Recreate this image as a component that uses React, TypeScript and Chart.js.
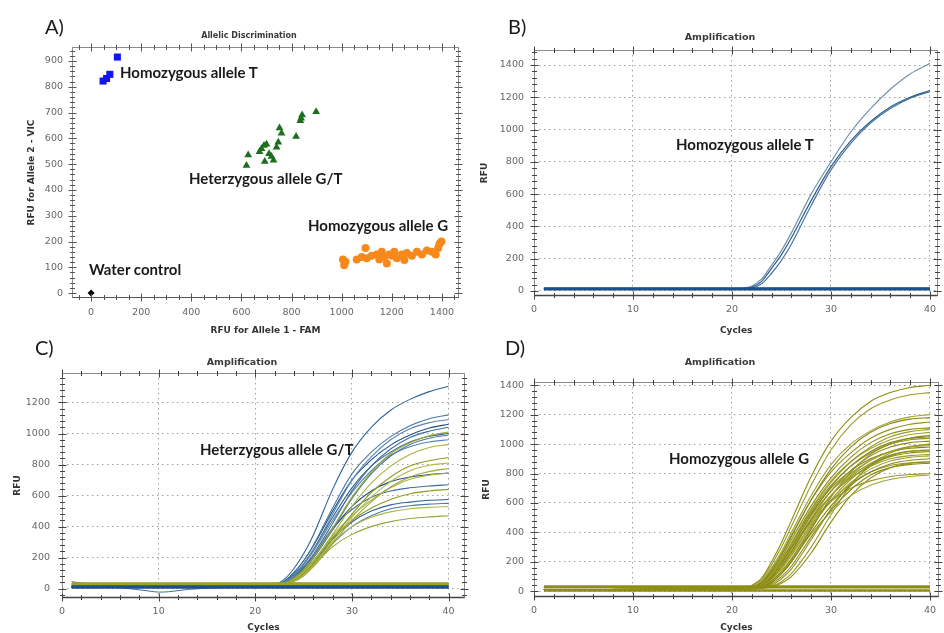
import React, { useEffect, useRef } from 'react';
import { Chart, registerables } from 'chart.js';
Chart.register(...registerables);

// ---------------- Panel A: allelic discrimination ----------------
const A_X_TICKS = [0, 200, 400, 600, 800, 1000, 1200, 1400];
const A_Y_TICKS = [0, 100, 200, 300, 400, 500, 600, 700, 800, 900];
const A_HOMO_T = [[48, 822], [62, 832], [75, 848], [105, 915]];
const A_HETERO = [
  [620, 495], [627, 535], [672, 548], [680, 560], [690, 572], [700, 577], [693, 510],
  [710, 540], [720, 530], [728, 515], [740, 565], [747, 585], [752, 640], [760, 620],
  [818, 607], [835, 668], [842, 690], [838, 678], [898, 703],
];
const A_HOMO_G = [
  [1005, 130], [1010, 108], [1015, 122], [1060, 130], [1080, 140], [1095, 175], [1100, 135],
  [1120, 145], [1140, 150], [1150, 130], [1160, 160], [1170, 140], [1180, 115], [1190, 150],
  [1200, 145], [1210, 160], [1220, 135], [1240, 150], [1250, 128], [1260, 155], [1280, 145],
  [1300, 160], [1320, 150], [1340, 165], [1360, 160], [1375, 150], [1385, 175], [1390, 190], [1398, 200],
];
const A_WATER = [[0, 0]];

// ---------------- Amplification curves ----------------
const CYCLES = [1, 20, 21, 22, 23, 24, 25, 26, 28, 30, 32, 34, 36, 38, 40];
const FLAT_CYCLES = [1, 40];
const AMP_X_TICKS = [0, 10, 20, 30, 40];
const B_Y_TICKS = [0, 200, 400, 600, 800, 1000, 1200, 1400];
const C_Y_TICKS = [0, 200, 400, 600, 800, 1000, 1200];
const D_Y_TICKS = [0, 200, 400, 600, 800, 1000, 1200, 1400];

// Panel B: homozygous allele T
const B_CURVES = [
  [12, 13, 16, 30, 75, 160, 250, 360, 600, 800, 985, 1130, 1250, 1345, 1410],
  [10, 11, 13, 24, 60, 140, 225, 330, 560, 770, 930, 1050, 1140, 1200, 1242],
  [10, 11, 12, 18, 45, 110, 190, 290, 530, 750, 915, 1040, 1130, 1195, 1235],
];
const B_FLAT = [[17, 17], [14, 14], [10, 10]];

// Panel C: heterozygous G/T (blue = FAM, olive = VIC)
const C_BLUE = [
  [8, 10, 14, 25, 60, 130, 225, 345, 640, 880, 1040, 1150, 1220, 1270, 1305],
  [10, 12, 14, 22, 45, 100, 180, 280, 520, 740, 880, 980, 1050, 1095, 1120],
  [10, 12, 13, 20, 40, 85, 160, 250, 480, 700, 850, 960, 1030, 1070, 1090],
  [10, 12, 14, 22, 48, 105, 180, 275, 500, 700, 830, 925, 990, 1035, 1060],
  [10, 12, 13, 18, 35, 75, 140, 220, 420, 630, 790, 900, 975, 1015, 1040],
  [10, 12, 13, 20, 42, 90, 160, 250, 460, 650, 790, 880, 945, 982, 1000],
  [10, 12, 13, 17, 30, 65, 120, 195, 380, 580, 740, 855, 930, 970, 990],
  [10, 12, 14, 20, 42, 88, 155, 240, 440, 620, 760, 860, 915, 945, 960],
  [10, 12, 13, 18, 35, 75, 130, 200, 380, 530, 630, 690, 720, 735, 745],
  [10, 12, 14, 20, 40, 85, 140, 210, 390, 510, 590, 630, 650, 662, 670],
  [10, 12, 13, 18, 34, 70, 115, 170, 320, 430, 500, 540, 558, 570, 575],
  [10, 12, 13, 17, 30, 60, 100, 155, 290, 400, 470, 515, 535, 545, 550],
];
const C_OLIVE = [
  [15, 18, 19, 22, 35, 70, 125, 200, 390, 590, 750, 870, 940, 985, 1010],
  [15, 18, 19, 21, 32, 60, 105, 175, 350, 530, 680, 790, 865, 910, 930],
  [15, 18, 19, 21, 30, 55, 95, 160, 320, 480, 620, 720, 790, 825, 845],
  [15, 18, 19, 21, 28, 50, 90, 150, 305, 460, 590, 690, 760, 795, 810],
  [15, 18, 19, 20, 27, 46, 82, 140, 290, 440, 560, 655, 720, 755, 775],
  [15, 18, 19, 22, 32, 60, 110, 175, 340, 470, 570, 650, 705, 732, 745],
  [15, 18, 19, 22, 34, 65, 115, 180, 330, 440, 520, 575, 612, 630, 640],
  [15, 18, 19, 21, 32, 60, 105, 165, 300, 400, 460, 495, 515, 524, 530],
  [15, 18, 19, 21, 30, 55, 95, 150, 270, 350, 400, 432, 452, 463, 470],
];
const C_OLIVE_FLAT = [[34, 34], [30, 30]];
const C_BLUE_FLAT = [[16, 16], [10, 10]];
const C_NOISE_CYCLES = [1, 4, 7, 9, 10, 11, 13, 16, 20, 24, 40];
const C_NOISE = [45, 20, 0, -15, -22, -20, -5, 5, 10, 14, 16];

// Panel D: homozygous allele G
const D_CURVES = [
  [10, 15, 20, 40, 90, 200, 330, 480, 780, 1020, 1180, 1290, 1350, 1385, 1400],
  [10, 15, 19, 35, 80, 180, 300, 440, 720, 960, 1130, 1240, 1300, 1335, 1350],
  [10, 15, 18, 30, 70, 160, 270, 400, 650, 860, 1000, 1090, 1150, 1185, 1200],
  [10, 15, 17, 25, 60, 140, 245, 370, 620, 830, 980, 1080, 1140, 1170, 1180],
  [10, 15, 18, 30, 65, 150, 255, 380, 620, 810, 940, 1040, 1100, 1135, 1150],
  [10, 15, 17, 25, 58, 130, 230, 350, 580, 770, 910, 1010, 1070, 1100, 1110],
  [10, 15, 16, 20, 45, 110, 205, 320, 550, 740, 880, 980, 1050, 1085, 1100],
  [10, 15, 17, 25, 55, 120, 215, 330, 560, 750, 880, 970, 1030, 1065, 1080],
  [10, 15, 16, 20, 42, 100, 190, 300, 520, 710, 850, 950, 1010, 1040, 1050],
  [10, 15, 17, 25, 55, 120, 210, 320, 540, 720, 850, 940, 1000, 1030, 1040],
  [10, 15, 16, 20, 40, 90, 170, 270, 490, 680, 820, 920, 980, 1010, 1020],
  [10, 15, 16, 20, 48, 110, 195, 300, 510, 680, 800, 890, 950, 985, 1000],
  [10, 15, 16, 20, 38, 80, 155, 250, 460, 650, 790, 890, 950, 980, 990],
  [10, 15, 17, 25, 55, 120, 215, 320, 530, 700, 820, 900, 950, 972, 980],
  [10, 15, 16, 20, 42, 90, 170, 270, 480, 650, 780, 870, 925, 952, 960],
  [10, 15, 16, 20, 34, 70, 135, 220, 430, 620, 760, 860, 915, 940, 950],
  [10, 15, 16, 20, 45, 100, 185, 290, 490, 650, 770, 850, 900, 922, 930],
  [10, 15, 16, 20, 38, 80, 150, 240, 440, 610, 740, 830, 885, 910, 920],
  [10, 15, 16, 19, 30, 60, 120, 200, 400, 580, 720, 810, 865, 890, 900],
  [10, 15, 16, 20, 42, 90, 165, 260, 450, 610, 730, 810, 855, 873, 880],
  [10, 15, 16, 18, 27, 50, 100, 170, 370, 550, 690, 790, 840, 862, 870],
  [10, 15, 17, 25, 55, 110, 190, 290, 470, 610, 700, 750, 780, 793, 800],
  [10, 15, 16, 20, 35, 70, 130, 210, 390, 540, 650, 720, 760, 780, 790],
  [10, 15, 16, 19, 30, 60, 120, 200, 420, 640, 810, 930, 1000, 1040, 1060],
  [10, 15, 16, 17, 24, 40, 85, 150, 350, 560, 730, 850, 920, 950, 960],
  [10, 15, 15, 16, 20, 30, 55, 100, 260, 470, 650, 770, 840, 870, 880],
  [10, 15, 15, 16, 21, 35, 65, 120, 300, 520, 720, 860, 940, 980, 1000],
];
const D_FLAT = [[32, 32], [28, 28], [6, 6]];

// ---------------- helpers ----------------
const toXY = (xs: number[], ys: number[]) => xs.map((x, i) => ({ x, y: ys[i] }));
const pairs = (p: number[][]) => p.map(([x, y]) => ({ x, y }));

const TICK_FONT = { family: 'DejaVu Sans', size: 9.5 };
const TITLE_FONT = { family: 'DejaVu Sans', size: 9, weight: 'bold' as const };

function axis(o: any) {
  return {
    type: 'linear',
    min: o.min,
    max: o.max,
    afterBuildTicks: (s: any) => { s.ticks = o.ticks.map((v: number) => ({ value: v })); },
    afterFit: (s: any) => { if (o.horizontal) s.height = o.size; else s.width = o.size; },
    ticks: { font: TICK_FONT, color: '#666', padding: o.tickPad, maxRotation: 0, autoSkip: false, callback: (v: any) => String(v) },
    grid: { display: o.grid, drawTicks: false, color: '#a0a0a0', lineWidth: 1 },
    border: { display: false, dash: [1.5, 3.5] },
    title: { display: true, text: o.title, font: TITLE_FONT, color: '#333', padding: o.titlePad },
  };
}

function framePlugin(cfg: any) {
  return {
    id: 'frameTicks',
    afterDatasetsDraw(chart: any) {
      const { ctx, chartArea: a, scales } = chart;
      const xs = scales.x, ys = scales.y;
      const L = Math.round(a.left) + 0.5, R = Math.round(a.right) - 0.5;
      const T = Math.round(a.top) + 0.5, B = Math.round(a.bottom) - 0.5;
      ctx.save();
      ctx.strokeStyle = cfg.frame;
      ctx.lineWidth = 1;
      ctx.strokeRect(L, T, R - L, B - T);
      ctx.strokeStyle = cfg.axis;
      ctx.lineWidth = cfg.axisWidth;
      ctx.beginPath();
      ctx.moveTo(L, B); ctx.lineTo(R, B);
      ctx.stroke();
      ctx.lineWidth = 1;
      ctx.strokeStyle = cfg.tick;
      ctx.beginPath();
      const x0 = Math.ceil(xs.min / cfg.xMinor) * cfg.xMinor;
      for (let v = x0; v <= xs.max + 1e-9; v += cfg.xMinor) {
        const major = Math.abs(v / cfg.xMajor - Math.round(v / cfg.xMajor)) < 1e-6;
        const len = major ? 4 : 2.5;
        const px = Math.round(xs.getPixelForValue(v)) + 0.5;
        ctx.moveTo(px, B - len); ctx.lineTo(px, B + len);
        ctx.moveTo(px, T - len); ctx.lineTo(px, T + len);
      }
      const y0 = Math.ceil(ys.min / cfg.yMinor) * cfg.yMinor;
      for (let v = y0; v <= ys.max + 1e-9; v += cfg.yMinor) {
        const major = Math.abs(v / cfg.yMajor - Math.round(v / cfg.yMajor)) < 1e-6;
        const len = major ? 4 : 2.5;
        const py = Math.round(ys.getPixelForValue(v)) + 0.5;
        ctx.moveTo(L - len, py); ctx.lineTo(L + len, py);
        ctx.moveTo(R - len, py); ctx.lineTo(R + len, py);
      }
      ctx.stroke();
      ctx.restore();
    },
  };
}

const lineDs = (xs: number[], ys: number[], color: string, width = 1) => ({
  data: toXY(xs, ys),
  borderColor: color,
  borderWidth: width,
  pointRadius: 0,
  fill: false,
  cubicInterpolationMode: 'monotone',
});

const baseOptions = (padding: any, x: any, y: any) => ({
  responsive: false,
  animation: false,
  events: [],
  layout: { padding },
  plugins: { legend: { display: false }, tooltip: { enabled: false }, title: { display: false } },
  scales: { x, y },
});

// ---------------- configs ----------------
function configA() {
  return {
    type: 'scatter',
    data: {
      datasets: [
        { data: pairs(A_HOMO_T), pointStyle: 'rect', pointRadius: 5, backgroundColor: '#1414f0', borderColor: '#1414f0', borderWidth: 0 },
        { data: pairs(A_HETERO), pointStyle: 'triangle', pointRadius: 4.5, backgroundColor: '#1d6e1d', borderColor: '#1d6e1d', borderWidth: 0 },
        { data: pairs(A_HOMO_G), pointStyle: 'circle', pointRadius: 4, backgroundColor: '#f7891c', borderColor: '#f7891c', borderWidth: 0 },
        { data: pairs(A_WATER), pointStyle: 'rectRot', pointRadius: 3.5, backgroundColor: '#000', borderColor: '#000', borderWidth: 0 },
      ],
    },
    options: baseOptions(
      { left: 0, right: 13, top: 47, bottom: 0 },
      axis({ min: -76, max: 1468, ticks: A_X_TICKS, size: 42, horizontal: true, tickPad: 9, grid: false, title: 'RFU for Allele 1 - FAM', titlePad: { top: 0, bottom: 3.6 } }),
      axis({ min: -19, max: 954, ticks: A_Y_TICKS, size: 72, horizontal: false, tickPad: 9, grid: false, title: 'RFU for Allele 2 - VIC', titlePad: { top: 26.6, bottom: 0 } }),
    ),
    plugins: [framePlugin({ frame: '#8c8c8c', axis: '#555', axisWidth: 1.2, tick: '#555', xMinor: 50, xMajor: 200, yMinor: 20, yMajor: 100 })],
  };
}

const B_BLUES = ['#7390b0', '#2c5d8d', '#4a77a2'];
function configB() {
  const ds: any[] = [];
  B_FLAT.forEach((f) => ds.push(lineDs(FLAT_CYCLES, f, '#1f4f8a', 2)));
  B_CURVES.forEach((c, i) => ds.push(lineDs(CYCLES, c, B_BLUES[i], 1.2)));
  return {
    type: 'line',
    data: { datasets: ds },
    options: baseOptions(
      { left: 0, right: 1, top: 50, bottom: 0 },
      axis({ min: 0, max: 40.85, ticks: AMP_X_TICKS, size: 44, horizontal: true, tickPad: 8, grid: true, title: 'Cycles', titlePad: { top: 0, bottom: 3.6 } }),
      axis({ min: -31, max: 1493, ticks: B_Y_TICKS, size: 62, horizontal: false, tickPad: 10, grid: true, title: 'RFU', titlePad: { top: 7.6, bottom: 0 } }),
    ),
    plugins: [framePlugin({ frame: '#8c8c8c', axis: '#444', axisWidth: 1.5, tick: '#444', xMinor: 2, xMajor: 10, yMinor: 40, yMajor: 200 })],
  };
}

const C_BLUE_COLS = ['#2f6596', '#4a7aa6', '#5b86ad', '#1f4f86', '#3d6f9e'];
const C_OLIVE_COLS = ['#9aa632', '#a9b33e', '#8f9a22', '#b0b84a'];
function configC() {
  const ds: any[] = [];
  C_OLIVE_FLAT.forEach((f) => ds.push(lineDs(FLAT_CYCLES, f, '#9aa228', 2.5)));
  C_BLUE_FLAT.forEach((f) => ds.push(lineDs(FLAT_CYCLES, f, '#1f4f8a', 3)));
  ds.push(lineDs(C_NOISE_CYCLES, C_NOISE, '#3d6f9e', 1));
  const n = Math.max(C_BLUE.length, C_OLIVE.length);
  for (let i = 0; i < n; i++) {
    if (C_OLIVE[i]) ds.push(lineDs(CYCLES, C_OLIVE[i], C_OLIVE_COLS[i % C_OLIVE_COLS.length], 1.1));
    if (C_BLUE[i]) ds.push(lineDs(CYCLES, C_BLUE[i], C_BLUE_COLS[i % C_BLUE_COLS.length], 1.1));
  }
  return {
    type: 'line',
    data: { datasets: ds },
    options: baseOptions(
      { left: 0, right: 7, top: 33, bottom: 0 },
      axis({ min: 0, max: 41.7, ticks: AMP_X_TICKS, size: 35, horizontal: true, tickPad: 8, grid: true, title: 'Cycles', titlePad: { top: 0, bottom: 0 } }),
      axis({ min: -60, max: 1390, ticks: C_Y_TICKS, size: 62, horizontal: false, tickPad: 12, grid: true, title: 'RFU', titlePad: { top: 12.6, bottom: 0 } }),
    ),
    plugins: [framePlugin({ frame: '#8c8c8c', axis: '#444', axisWidth: 1.5, tick: '#444', xMinor: 2, xMajor: 10, yMinor: 40, yMajor: 200 })],
  };
}

const D_COLS = ['#8c8c12', '#9a9a26', '#a3a334', '#85851a', '#939320'];
function configD() {
  const ds: any[] = [];
  D_FLAT.forEach((f) => ds.push(lineDs(FLAT_CYCLES, f, '#8e8e16', 2.5)));
  D_CURVES.forEach((c, i) => ds.push(lineDs(CYCLES, c, D_COLS[i % D_COLS.length], 1.1)));
  return {
    type: 'line',
    data: { datasets: ds },
    options: baseOptions(
      { left: 0, right: 1, top: 42, bottom: 0 },
      axis({ min: 0, max: 40.9, ticks: AMP_X_TICKS, size: 36, horizontal: true, tickPad: 8, grid: true, title: 'Cycles', titlePad: { top: 0, bottom: 0 } }),
      axis({ min: -39, max: 1422, ticks: D_Y_TICKS, size: 62, horizontal: false, tickPad: 10, grid: true, title: 'RFU', titlePad: { top: 9.6, bottom: 0 } }),
    ),
    plugins: [framePlugin({ frame: '#8c8c8c', axis: '#444', axisWidth: 1.5, tick: '#444', xMinor: 2, xMajor: 10, yMinor: 40, yMajor: 200 })],
  };
}

function Panel({ make, left, top, width, height }: any) {
  const ref = useRef<HTMLCanvasElement>(null);
  useEffect(() => {
    if (!ref.current) return;
    const chart = new Chart(ref.current, make());
    return () => chart.destroy();
  }, []);
  return <canvas ref={ref} width={width} height={height} style={{ position: 'absolute', left, top, width, height }} />;
}

const LABEL_FS = 15;
function Note({ text, x, base, size = LABEL_FS, weight = 700 }: any) {
  return (
    <div style={{ position: 'absolute', left: x, top: base - 0.887 * size, fontFamily: 'Lato', fontWeight: weight, fontSize: size, lineHeight: 1, color: '#1a1a1a', whiteSpace: 'nowrap' }}>
      {text}
    </div>
  );
}
function Title({ text, cx, base, size }: any) {
  return (
    <div style={{ position: 'absolute', left: cx - 100, width: 200, textAlign: 'center', top: base - 0.846 * size, fontFamily: 'DejaVu Sans', fontWeight: 700, fontSize: size, lineHeight: 1, color: '#3a3a3a', whiteSpace: 'nowrap' }}>
      {text}
    </div>
  );
}

export default function App() {
  return (
    <div style={{ position: 'absolute', left: 0, top: 0, width: 944, height: 633, background: '#fff', overflow: 'hidden' }}>
      <Panel make={configA} left={0} top={0} width={472} height={340} />
      <Panel make={configB} left={472} top={0} width={472} height={340} />
      <Panel make={configC} left={0} top={340} width={472} height={293} />
      <Panel make={configD} left={472} top={340} width={472} height={293} />

      <Note text="A)" x={45} base={33.3} size={20} weight={400} />
      <Note text="B)" x={508} base={33.3} size={20} weight={400} />
      <Note text="C)" x={35} base={355} size={20} weight={400} />
      <Note text="D)" x={505} base={354.3} size={20} weight={400} />

      <Title text="Allelic Discrimination" cx={249} base={38.5} size={8} />
      <Title text="Amplification" cx={720} base={40} size={9.5} />
      <Title text="Amplification" cx={242} base={365} size={9.5} />
      <Title text="Amplification" cx={720} base={365} size={9.5} />

      <Note text="Homozygous allele T" x={120} base={78} />
      <Note text="Heterzygous allele G/T" x={189} base={184.5} />
      <Note text="Homozygous allele G" x={308} base={231.7} />
      <Note text="Water control" x={89} base={275} />
      <Note text="Homozygous allele T" x={676} base={150.7} />
      <Note text="Heterzygous allele G/T" x={200} base={455.3} />
      <Note text="Homozygous allele G" x={669} base={464.3} />
    </div>
  );
}
